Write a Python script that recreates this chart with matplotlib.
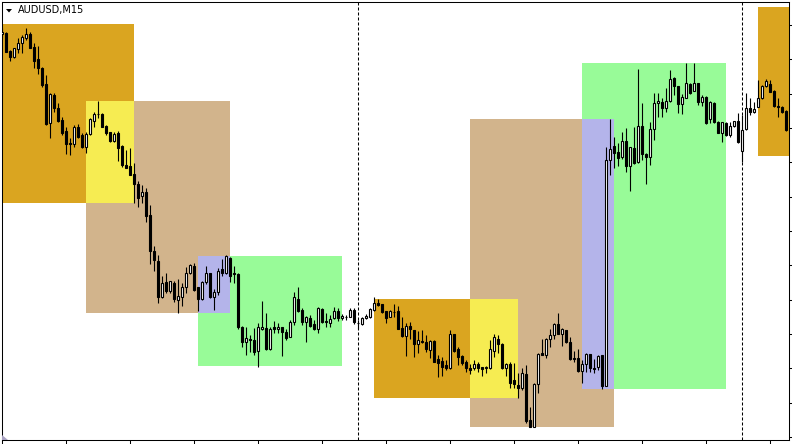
import numpy as np
import matplotlib
matplotlib.use("Agg")
import matplotlib.pyplot as plt
from matplotlib.patches import Rectangle, Polygon

# ---------------- data (AUDUSD M15, price in chart points, 34.33 pts = 10 pips) ----------------
open_pts = [406,407,389,383,391,397,402,406,393,381,
            372,356,317,345,332,320,309,297,296,313,
            305,293,306,319,326,326,314,308,299,307,
            294,275,274,266,256,244,248,225,189,179,
            143,158,149,157,140,143,153,167,174,153,
            141,158,167,143,148,171,167,182,167,166,
            113,98,101,100,89,111,112,91,113,111,
            113,108,103,118,141,130,118,122,116,111,
            131,119,117,122,129,122,123,123,130,117,
            116,122,123,130,137,136,129,123,128,129,
            112,104,114,110,96,99,98,90,99,81,
            79,75,72,106,91,84,78,72,72,76,
            73,72,72,89,101,96,72,76,60,55,
            52,66,20,13,56,87,85,101,105,116,
            106,110,98,82,82,69,76,86,72,73,
            85,54,280,294,288,283,299,274,292,278,
            314,286,283,311,337,338,332,339,362,354,
            336,342,356,349,357,338,343,321,337,318,
            307,317,305,314,319,289,311,332,328,333,
            342,354,356,349,334,333,329]
high_pts = [412,408,390,392,402,405,412,408,397,394,
            373,365,347,347,337,323,313,302,315,316,
            307,308,322,328,339,327,315,308,308,309,
            295,290,292,277,259,255,252,235,194,185,
            164,167,159,159,161,157,173,176,177,153,
            159,174,167,151,172,181,185,183,174,167,
            114,113,105,112,117,139,127,113,119,117,
            113,111,120,148,153,132,124,125,120,133,
            132,127,125,133,132,126,125,132,132,120,
            123,126,132,143,141,136,129,130,136,134,
            123,117,118,110,109,110,105,100,100,85,
            83,80,110,106,93,85,80,76,80,78,
            73,74,100,106,105,97,77,78,77,67,
            72,75,33,57,87,101,102,111,117,127,
            112,110,103,89,91,80,87,86,81,85,
            85,293,321,303,297,308,312,293,313,371,
            337,287,318,347,347,342,352,370,363,354,
            346,377,357,377,357,345,344,339,338,319,
            318,318,318,319,327,325,347,342,338,360,
            355,361,360,350,342,334,330]
low_pts = [402,388,379,382,387,387,400,392,372,366,
           353,315,302,328,318,305,286,285,293,302,
           292,287,305,313,322,313,305,298,298,279,
           273,272,265,237,233,237,218,176,169,137,
           142,147,147,138,127,134,147,166,149,129,
           140,156,142,130,145,164,166,158,157,111,
           93,85,88,85,73,110,90,90,107,107,
           84,100,103,115,128,115,98,113,110,107,
           117,113,113,121,119,120,120,123,116,111,
           115,121,122,129,134,127,117,123,123,111,
           103,84,101,83,87,97,88,82,78,63,
           64,70,71,88,75,75,68,66,70,68,
           64,67,71,83,87,71,64,52,52,42,
           50,17,13,13,47,85,82,93,101,106,
           94,97,80,78,68,57,68,68,67,70,
           51,54,265,272,274,281,268,249,276,277,
           280,256,275,300,323,323,328,338,345,327,
           326,342,346,349,335,334,316,317,317,307,
           298,304,303,313,297,278,310,325,327,333,
           341,353,348,333,323,327,309]
close_pts = [408,388,383,392,397,403,406,392,379,372,
             355,316,346,332,319,307,296,296,313,303,
             293,306,321,326,326,313,307,299,306,292,
             275,272,265,256,242,248,224,189,180,143,
             157,149,159,141,144,153,167,175,150,141,
             158,167,143,148,169,167,184,164,166,113,
             98,102,100,88,113,113,91,111,111,113,
             108,102,118,143,129,118,123,114,111,132,
             118,118,121,129,122,124,123,130,118,117,
             122,124,131,137,135,128,122,129,128,111,
             104,114,111,96,100,98,91,99,78,77,
             73,72,106,89,83,77,72,70,76,72,
             71,73,91,103,96,72,76,57,56,52,
             67,19,13,56,86,85,101,105,116,106,
             111,98,81,81,69,76,86,72,71,84,
             54,280,291,287,282,299,274,293,277,314,
             286,283,311,337,339,332,339,361,354,336,
             343,357,347,357,338,343,317,338,318,307,
             318,305,314,319,298,310,332,328,331,342,
             354,359,348,334,333,328,310]

# session boxes: start bar, end bar, low, high, colour
box_start = [-1, 21, 49, 21, 49, 93, 117, 145, 117, 145, 189]
box_end   = [33, 57, 85, 33, 57, 117, 153, 181, 129, 153, 200]
box_low   = [237, 127, 74, 237, 127, 42, 13, 51, 42, 51, 284]
box_high  = [416, 339, 184, 339, 184, 141, 321, 377, 141, 321, 433]
box_color = ["#DAA520", "#D2B48C", "#98FB98", "#F6EC52", "#B4B4EA",
             "#DAA520", "#D2B48C", "#98FB98", "#F6EC52", "#B4B4EA", "#DAA520"]

day_separators = [89, 185]
symbol_label = "AUDUSD,M15"


def to_price(p):
    return 0.7600 + (np.asarray(p, dtype=float) - 3) * 0.0010 / 34.33


o = to_price(open_pts)
h = to_price(high_pts)
l = to_price(low_pts)
c = to_price(close_pts)
n = len(o)
x = np.arange(n)

# ---------------- figure ----------------
W, H = 792, 444
fig = plt.figure(figsize=(W / 100, H / 100), dpi=100)
L_px, R_px, T_px, B_px = 1.7, 789, 2, 440
ax = fig.add_axes([L_px / W, 1 - B_px / H, (R_px - L_px) / W, (B_px - T_px) / H])
ax.set_xlim((L_px - 2) / 4, (R_px - 2) / 4)
ax.set_ylim(to_price(0), to_price(438))

for xs, xe, lo_, hi_, col in zip(box_start, box_end, box_low, box_high, box_color):
    y0, y1 = to_price(lo_), to_price(hi_)
    ax.add_patch(Rectangle((xs, y0), xe - xs, y1 - y0, facecolor=col,
                           edgecolor="none", zorder=0))

for d in day_separators:
    ax.axvline(d, color="black", lw=0.75, linestyle=(0, (2.9, 1.9)), zorder=1)

up = c >= o
ax.vlines(x, l, h, color="black", lw=0.8, zorder=3)
bottoms = np.minimum(o, c)
heights = np.abs(c - o)
ax.bar(x, heights, bottom=bottoms, width=0.62,
       color=np.where(up, "white", "black"), edgecolor="black",
       linewidth=0.8, zorder=4)

# axes styling
for s in ax.spines.values():
    s.set_color("black")
    s.set_linewidth(0.75)
ax.set_xticks(np.arange(0, n, 16))
ax.yaxis.tick_right()
ax.set_yticks(0.7600 + 0.0010 * np.arange(13))
ax.tick_params(axis="x", direction="out", length=2.9, width=0.75,
               labelbottom=False)
ax.tick_params(axis="y", direction="out", length=2.2, width=0.75,
               labelright=False, left=False)


def fp(px, py):
    return (px / W, 1 - py / H)


fig.text(17.5 / W, 1 - 10.5 / H, symbol_label, fontsize=7, va="center",
         ha="left", family="DejaVu Sans", color="black")
fig.patches.append(Polygon([fp(6, 9), fp(12, 9), fp(9, 12.5)], closed=True,
                           facecolor="black", edgecolor="none",
                           transform=fig.transFigure, figure=fig))
fig.patches.append(Polygon([fp(2, 434.5), fp(2, 440), fp(7.5, 440)], closed=True,
                           facecolor="#A9A2C2", edgecolor="none",
                           transform=fig.transFigure, figure=fig))

fig.savefig("out.png", dpi=100, facecolor="white")
